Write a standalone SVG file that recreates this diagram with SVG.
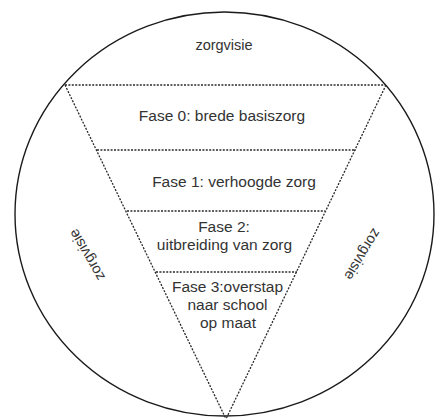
<svg xmlns="http://www.w3.org/2000/svg" width="436" height="419" viewBox="0 0 436 419">
<style>
.dot{fill:none;stroke:#2a2a2a;stroke-width:1.3;stroke-dasharray:2 1.4}
.t{font-family:"Liberation Sans",Arial,sans-serif;font-size:15.5px;fill:#333;text-anchor:middle}
.z{font-family:"Liberation Sans",Arial,sans-serif;font-size:14.5px;fill:#333;text-anchor:middle}
</style>
<rect width="436" height="419" fill="#fff"/>
<g id="circle">
<ellipse cx="224.5" cy="214" rx="209.5" ry="202" fill="none" stroke="#1a1a1a" stroke-width="1.4"/>
</g>
<g id="connectors">
<line class="dot" x1="65" y1="85" x2="386" y2="85"/>
<line class="dot" x1="65" y1="85" x2="226" y2="419"/>
<line class="dot" x1="386" y1="85" x2="226" y2="419"/>
<line class="dot" x1="97" y1="150" x2="356" y2="150"/>
<line class="dot" x1="127" y1="211" x2="325" y2="211"/>
<line class="dot" x1="156" y1="272" x2="297" y2="272"/>
</g>
<g id="zorgvisie-top"><text class="z" x="224" y="50">zorgvisie</text></g>
<g id="zorgvisie-left"><text class="z" transform="translate(91,252.5) rotate(-120)">zorgvisie</text></g>
<g id="zorgvisie-right"><text class="z" transform="translate(358.5,252) rotate(121)">zorgvisie</text></g>
<g id="fase0"><text class="t" x="222" y="120.5">Fase 0: brede basiszorg</text></g>
<g id="fase1"><text class="t" x="234" y="186.5">Fase 1: verhoogde zorg</text></g>
<g id="fase2"><text class="t" x="224" y="232">Fase 2:</text><text class="t" x="224.5" y="250">uitbreiding van zorg</text></g>
<g id="fase3"><text class="t" x="227.5" y="291.5">Fase 3:overstap</text><text class="t" x="227.5" y="309.5">naar school</text><text class="t" x="228" y="328">op maat</text></g>
</svg>
